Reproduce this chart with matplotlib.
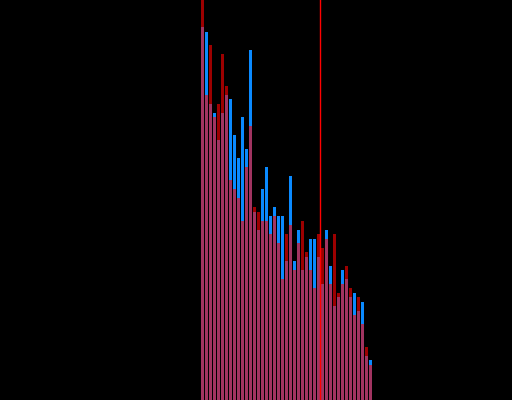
import numpy as np
import matplotlib
matplotlib.use('Agg')
import matplotlib.pyplot as plt

# bar heights (pixel-ish units, 0..400)
blue = [373, 368, 296, 287, 260, 287, 305, 301, 265, 242,
        283, 251, 350, 188, 170, 211, 233, 184, 193, 184,
        184, 139, 224, 139, 170, 130, 143, 161, 161, 143,
        116, 170, 134, 94, 103, 130, 121, 103, 107, 89,
        98, 44, 40]
red = [400, 305, 355, 283, 296, 346, 314, 220, 211, 202,
       179, 233, 274, 193, 188, 179, 179, 166, 184, 157,
       121, 166, 175, 130, 157, 179, 148, 130, 112, 166,
       152, 161, 116, 166, 107, 116, 134, 112, 85, 103,
       76, 53, 35]
marker_x = 29.42

bins = np.arange(len(blue))

fig = plt.figure(figsize=(5.12, 4.0), dpi=100, facecolor='black')
ax = fig.add_axes([0, 0, 1, 1])
ax.set_facecolor('black')

ax.bar(bins, blue, width=0.75, color='#0a8aff', linewidth=0)
ax.bar(bins, red, width=0.75, color='#ff0000', alpha=0.62, linewidth=0)
ax.axvline(marker_x, color='#ff0000', lw=1.0)

ax.set_xlim(-50.6, 77.4)
ax.set_ylim(0, 400)
ax.axis('off')

plt.savefig('out.png', dpi=100, facecolor='black')
